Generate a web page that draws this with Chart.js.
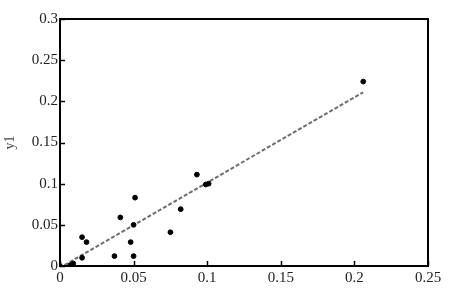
<!DOCTYPE html>
<html>
<head>
<meta charset="utf-8">
<script src="https://cdn.jsdelivr.net/npm/chart.js@4/dist/chart.umd.min.js"></script>
<style>
  html, body { margin: 0; padding: 0; background: #fff; }
  #wrap { width: 452px; height: 289px; }
</style>
</head>
<body>
<div id="wrap"><canvas id="scatterChart" width="452" height="289"></canvas></div>
<script>
// measured points
var xVals = [0, 0.007, 0.009, 0.015, 0.015, 0.018, 0.037, 0.041, 0.048, 0.050, 0.050, 0.051, 0.075, 0.082, 0.093, 0.099, 0.101, 0.206];
var yVals = [0, 0.001, 0.003, 0.035, 0.010, 0.029, 0.012, 0.059, 0.029, 0.012, 0.050, 0.083, 0.041, 0.069, 0.111, 0.099, 0.100, 0.224];

// fitted line ends
var fitX = [0.003, 0.206];
var fitY = [0.001, 0.211];

var xTicks = [0, 0.05, 0.1, 0.15, 0.2, 0.25];
var xTickLabels = ["0", "0.05", "0.1", "0.15", "0.2", "0.25"];
var yTicks = [0, 0.05, 0.1, 0.15, 0.2, 0.25, 0.3];
var yTickLabels = ["0", "0.05", "0.1", "0.15", "0.2", "0.25", "0.3"];
var yTitle = "y1";

var pts = xVals.map(function (x, i) { return { x: x, y: yVals[i] }; });
var fitPts = fitX.map(function (x, i) { return { x: x, y: fitY[i] }; });

// frame + inner ticks
var framePlugin = {
    id: 'frame',
    afterDraw: function (chart) {
        var c = chart.ctx, a = chart.chartArea;
        var xs = chart.scales.x, ys = chart.scales.y;
        c.save();
        c.strokeStyle = '#000';
        c.lineWidth = 1.5;
        xTicks.forEach(function (v) {
            var px = Math.round(xs.getPixelForValue(v)) + 0.5;
            c.beginPath(); c.moveTo(px, a.bottom); c.lineTo(px, a.bottom - 5); c.stroke();
        });
        yTicks.forEach(function (v) {
            var py = Math.round(ys.getPixelForValue(v)) + 0.5;
            c.beginPath(); c.moveTo(a.left, py); c.lineTo(a.left + 5, py); c.stroke();
        });
        c.lineWidth = 2;
        c.strokeRect(a.left, a.top, a.right - a.left, a.bottom - a.top);
        c.restore();
    }
};

var ctx = document.getElementById("scatterChart").getContext("2d");
new Chart(ctx, {
    type: 'scatter',
    data: {
        datasets: [{
            data: pts,
            backgroundColor: '#000',
            borderColor: '#000',
            pointRadius: 2.4,
            pointHoverRadius: 2.4,
            order: 1
        }, {
            type: 'line',
            data: fitPts,
            showLine: true,
            borderColor: '#6e6e6e',
            borderWidth: 2,
            borderDash: [4, 2],
            pointRadius: 0,
            fill: false,
            order: 2
        }]
    },
    options: {
        responsive: false,
        animation: false,
        layout: { padding: { top: 19, right: 24, left: 0, bottom: 0 } },
        plugins: {
            legend: { display: false },
            tooltip: { enabled: false }
        },
        scales: {
            x: {
                type: 'linear',
                min: 0,
                max: 0.25,
                afterBuildTicks: function (s) { s.ticks = xTicks.map(function (v) { return { value: v }; }); },
                afterFit: function (s) { s.height = 23; },
                grid: { display: false, drawTicks: false },
                border: { display: false },
                ticks: {
                    padding: 3,
                    maxRotation: 0,
                    color: '#222',
                    font: { family: 'Liberation Serif', size: 15 },
                    callback: function (v) { return xTickLabels[xTicks.indexOf(v)]; }
                }
            },
            y: {
                type: 'linear',
                min: 0,
                max: 0.3,
                afterBuildTicks: function (s) { s.ticks = yTicks.map(function (v) { return { value: v }; }); },
                afterFit: function (s) { s.width = 60; },
                grid: { display: false, drawTicks: false },
                border: { display: false },
                title: {
                    display: true,
                    text: yTitle,
                    color: '#444',
                    font: { family: 'Liberation Serif', size: 14 },
                    padding: { top: 2, bottom: 0 }
                },
                ticks: {
                    padding: 2,
                    color: '#222',
                    font: { family: 'Liberation Serif', size: 15 },
                    callback: function (v) { return yTickLabels[yTicks.indexOf(v)]; }
                }
            }
        }
    },
    plugins: [framePlugin]
});
</script>
</body>
</html>
